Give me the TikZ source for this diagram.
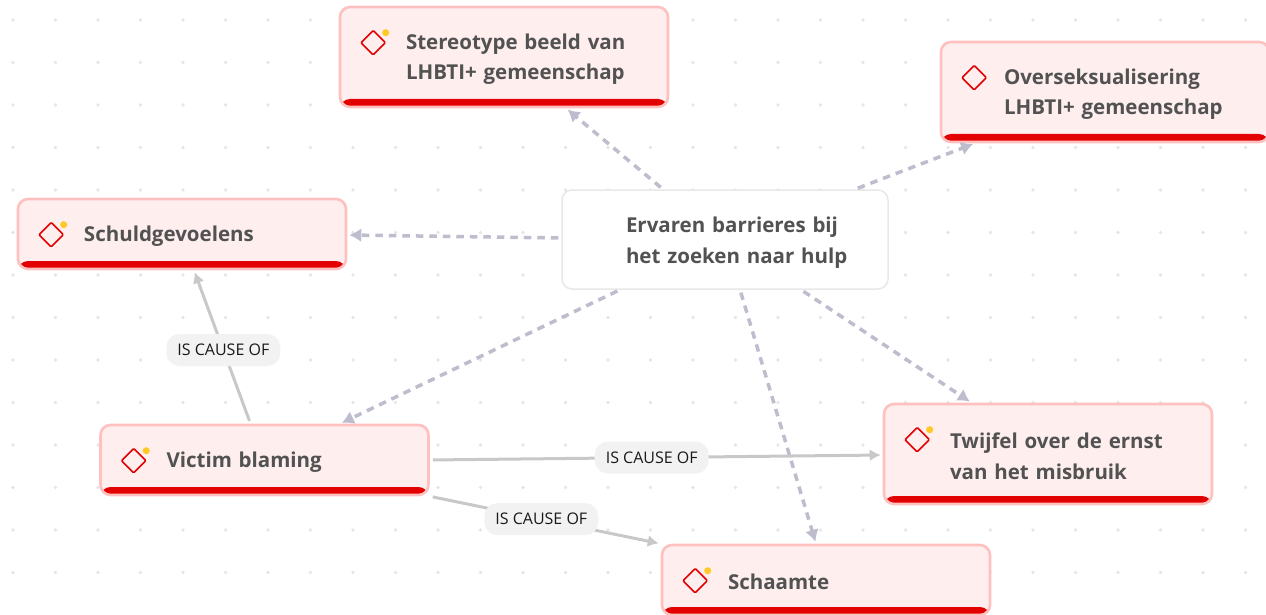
\documentclass[tikz,border=0pt]{standalone}
\usepackage{fontspec}
\setmainfont{Open Sans}
\usetikzlibrary{arrows.meta,shapes.geometric}
\definecolor{riskfill}{HTML}{FEEEEE}
\definecolor{riskline}{HTML}{FFC0C0}
\definecolor{riskred}{HTML}{E30000}
\definecolor{riskyellow}{HTML}{FFC822}
\definecolor{dashgrey}{HTML}{BDBDCE}
\definecolor{causegrey}{HTML}{C8C8C8}
\definecolor{griddot}{HTML}{E6E6E6}
\tikzset{
    textinset/.store in=\textinset, textinset=66pt,
    plainbox/.style={rounded corners=10pt, minimum width=326pt, inner sep=0pt, text width=#1pt,
        align=left, font=\bfseries\fontsize{20.5}{30.5}\selectfont, text=black!68},
    plainbox/.default=326,
    riskbox/.style={plainbox=328, draw=riskline, fill=riskfill, line width=2.6pt,
        execute at begin node={\leftskip=\textinset\rule{0pt}{20pt}},
        path picture={\fill[riskred] ([yshift=8pt]path picture bounding box.south west)
            rectangle (path picture bounding box.south east);}},
    mainbox/.style={plainbox, draw=black!9, fill=white, line width=1.5pt, minimum height=99pt,
        execute at begin node={\leftskip=64pt\rule{0pt}{22pt}}},
    riskmark/.style={diamond, draw=riskred, line width=1.6pt, minimum size=25pt, inner sep=0pt,
        rounded corners=1pt},
    riskdot/.style={circle, fill=riskyellow, minimum size=7pt, inner sep=0pt},
    barrier/.style={draw=dashgrey, line width=3.5pt, dash pattern=on 7.5pt off 6pt,
        shorten <=3pt, shorten >=2pt, -{Latex[length=12pt,width=14pt]}},
    cause/.style={draw=causegrey, line width=3pt, shorten <=3pt, shorten >=2pt,
        -{Latex[length=11pt,width=12pt]}},
    causelabel/.style={fill=black!5, rounded corners=13pt, minimum width=114pt, minimum height=32pt,
        inner sep=0pt, text=black!90, font=\fontsize{16}{18}\selectfont}
}
\begin{document}
\begin{tikzpicture}[x=1pt, y=-1pt]
    \useasboundingbox (0,0) rectangle (1266,615);
    \clip (0,0) rectangle (1266,615);
    \foreach \i in {0,...,29}
        \foreach \j in {0,...,13}
            \fill[griddot] (13+42.5*\i, 20+42.5*\j) circle (1.8pt);

    \node[mainbox] (barrieres) at (725,239.5) {Ervaren barrieres bij\\het zoeken naar hulp};
    \node[riskbox, minimum height=100pt] (stereotype) at (504,57) {Stereotype beeld van\\LHBTI+ gemeenschap};
    \node[riskbox, minimum height=100pt, textinset=63pt] (overseks) at (1105,92) {Overseksualisering\\LHBTI+ gemeenschap};
    \node[riskbox, minimum height=70pt] (schuld) at (182,234) {Schuldgevoelens};
    \node[riskbox, minimum height=70pt] (victim) at (264.5,460) {Victim blaming};
    \node[riskbox, minimum height=100pt] (twijfel) at (1048,454) {Twijfel over de ernst\\van het misbruik};
    \node[riskbox, minimum height=70pt] (schaamte) at (826,580) {Schaamte};

    \foreach \n in {stereotype,overseks,schuld,victim,twijfel,schaamte}
        \node[riskmark] (mark-\n) at ([shift={(34.5,37)}]\n.north west) {};
    \foreach \n in {stereotype,schuld,victim,twijfel,schaamte}
        \node[riskdot] (dot-\n) at ([shift={(47,27)}]\n.north west) {};

    % dashed links
    \draw[barrier] ([xshift=-62pt]barrieres.north) -- ([xshift=62pt]stereotype.south);
    \draw[barrier] ([xshift=130pt]barrieres.north) -- ([xshift=-130pt]overseks.south);
    \draw[barrier] ([yshift=1.5pt]barrieres.west) -- ([yshift=-1pt]schuld.east);
    \draw[barrier] ([xshift=-105pt]barrieres.south) -- ([xshift=75.5pt]victim.north);
    \draw[barrier] ([xshift=76pt]barrieres.south) -- ([xshift=-76.5pt]twijfel.north);
    \draw[barrier] ([xshift=15pt]barrieres.south) -- ([xshift=-10pt]schaamte.north);

    % solid links
    \draw[cause] ([xshift=-14pt]victim.north) -- node[causelabel, pos=.48] (cause-schuld) {IS CAUSE OF} ([xshift=12pt]schuld.south);
    \draw[cause] (victim.east) -- node[causelabel, pos=.49] (cause-twijfel) {IS CAUSE OF} ([yshift=-1pt]twijfel.west);
    \draw[cause] (victim.south east) -- node[causelabel, pos=.483] (cause-schaamte) {IS CAUSE OF} (schaamte.north west);
\end{tikzpicture}
\end{document}
